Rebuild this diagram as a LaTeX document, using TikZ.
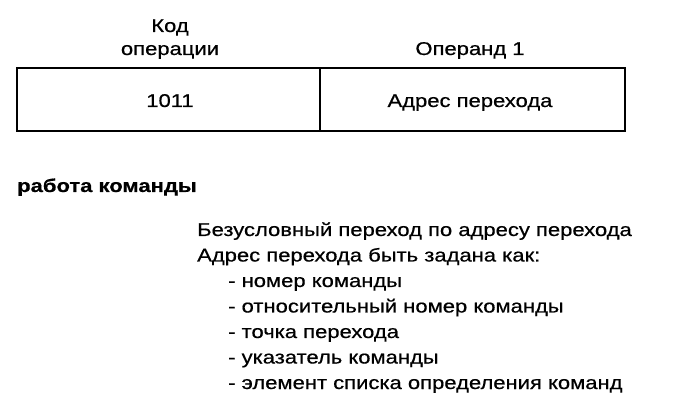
\documentclass[tikz,border=0pt]{standalone}
\usepackage{fontspec}
\setmainfont{Liberation Sans}[FakeStretch=1.19,FakeBold=0.6]
\begin{document}
\begin{tikzpicture}[x=1pt,y=-1pt,
  txt/.style={inner sep=0pt,font=\fontsize{18.5}{22}\selectfont},
  cell/.style={draw,line width=2pt}]
\useasboundingbox (0,0) rectangle (675,403);
\draw[cell] (17,68) rectangle (625,131);
\draw[line width=1.5pt] (320,68) -- (320,131);
\node[txt,anchor=base] (kod) at (170,32) {Код};
\node[txt,anchor=base] (oper) at (170,55) {операции};
\node[txt,anchor=base] (op1) at (470,55) {Операнд 1};
\node[txt,anchor=base] (code) at (170,107) {1011};
\node[txt,anchor=base] (addr) at (470,107) {Адрес перехода};
\node[txt,anchor=base west,font=\fontsize{18.5}{22}\selectfont\bfseries] (work) at (17,192) {работа команды};
\node[txt,anchor=base west] (l1) at (197,236) {Безусловный переход по адресу перехода};
\node[txt,anchor=base west] (l2) at (197,261.5) {Адрес перехода быть задана как:};
\node[txt,anchor=base west] (l3) at (228,287) {- номер команды};
\node[txt,anchor=base west] (l4) at (228,312.5) {- относительный номер команды};
\node[txt,anchor=base west] (l5) at (228,338) {- точка перехода};
\node[txt,anchor=base west] (l6) at (228,363.5) {- указатель команды};
\node[txt,anchor=base west] (l7) at (228,389) {- элемент списка определения команд};
\end{tikzpicture}
\end{document}
